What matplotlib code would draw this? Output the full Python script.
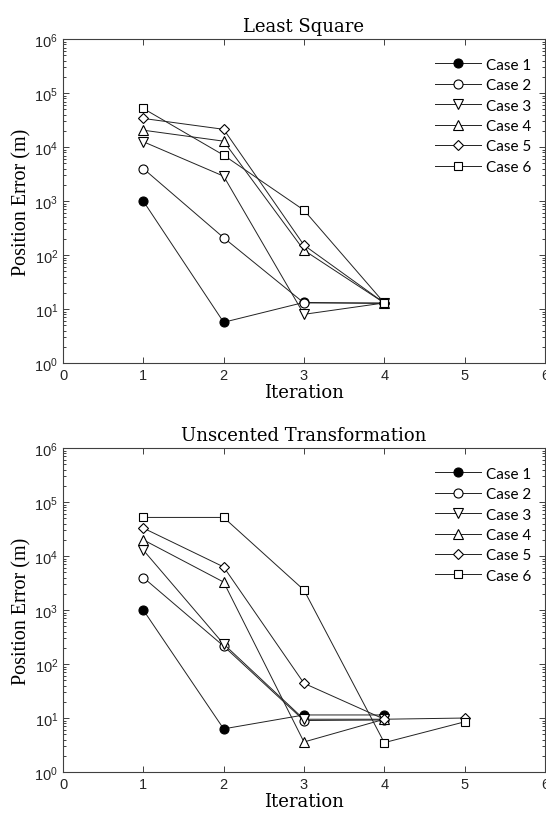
import matplotlib
matplotlib.use("Agg")
import matplotlib.pyplot as plt
from matplotlib.ticker import LogLocator, FixedLocator

labels = ["Case 1", "Case 2", "Case 3", "Case 4", "Case 5", "Case 6"]
markers = ["o", "o", "v", "^", "D", "s"]
fills = ["black", "white", "white", "white", "white", "white"]

# Least Square
ls_x = [
	[1, 2, 3, 4],
	[1, 2, 3, 4],
	[1, 2, 3, 4],
	[1, 2, 3, 4],
	[1, 2, 3, 4],
	[1, 2, 3, 4],
]
ls_y = [
	[1000, 5.7, 13.3, 12.7],
	[4000, 210, 13, 13],
	[12600, 2900, 8, 13],
	[20600, 12900, 123, 13],
	[34000, 21400, 153, 13],
	[52000, 7100, 680, 13],
]

# Unscented Transformation
ut_x = [
	[1, 2, 3, 4],
	[1, 2, 3, 4],
	[1, 2, 3, 4],
	[1, 2, 3, 4],
	[1, 2, 3, 4, 5],
	[1, 2, 3, 4, 5],
]
ut_y = [
	[1000, 6.3, 11.4, 11.4],
	[4000, 215, 9.0, 9.2],
	[12900, 235, 9.5, 9.5],
	[20000, 3300, 3.6, 9.5],
	[33000, 6300, 44, 9.5, 10],
	[52000, 52000, 2350, 3.5, 8.5],
]

serif = ["DejaVu Serif"]
sans = ["Liberation Sans"]
gray = "#404040"

fig = plt.figure(figsize=(5.46, 8.2), dpi=100)
ax1 = fig.add_axes([0.1154, 0.556, 0.8826, 0.395])
ax2 = fig.add_axes([0.1154, 0.0573, 0.8826, 0.395])

def draw(ax, xs, ys, title):
	for x, y, lab, m, fc in zip(xs, ys, labels, markers, fills):
		ms = 6.5
		if m in ("D", "s"):
			ms = 5.5
		ax.plot(x, y, color="#222222", lw=0.7, marker=m, ms=ms,
			mfc=fc, mec="black", mew=0.8, label=lab)
	ax.set_yscale("log")
	ax.set_ylim(1, 1e6)
	ax.set_xlim(0, 6)
	ax.xaxis.set_major_locator(FixedLocator(range(7)))
	ax.yaxis.set_major_locator(LogLocator(base=10, numticks=10))
	ax.yaxis.set_minor_locator(LogLocator(base=10, subs=range(2, 10), numticks=10))
	ax.tick_params(which="both", direction="in", top=True, right=True,
		color=gray, labelsize=10.5, labelcolor="#262626", width=0.7)
	ax.tick_params(which="major", length=4)
	ax.tick_params(which="minor", length=2)
	for lbl in ax.get_xticklabels() + ax.get_yticklabels():
		lbl.set_family(sans)
	for s in ax.spines.values():
		s.set_color(gray)
		s.set_linewidth(0.8)
	ax.set_title(title, family=serif, fontsize=13, pad=6)
	ax.set_xlabel("Iteration", family=serif, fontsize=13, labelpad=1)
	ax.set_ylabel("Position Error (m)", family=["Liberation Serif"], fontsize=14.5, labelpad=2)
	ax.legend(loc="upper right", frameon=False, prop={"family": "Lato", "size": 11},
		handlelength=3, handletextpad=0.3, labelspacing=0.42,
		bbox_to_anchor=(1.0, 0.985))

draw(ax1, ls_x, ls_y, "Least Square")
draw(ax2, ut_x, ut_y, "Unscented Transformation")

fig.savefig("out.png", dpi=100)
